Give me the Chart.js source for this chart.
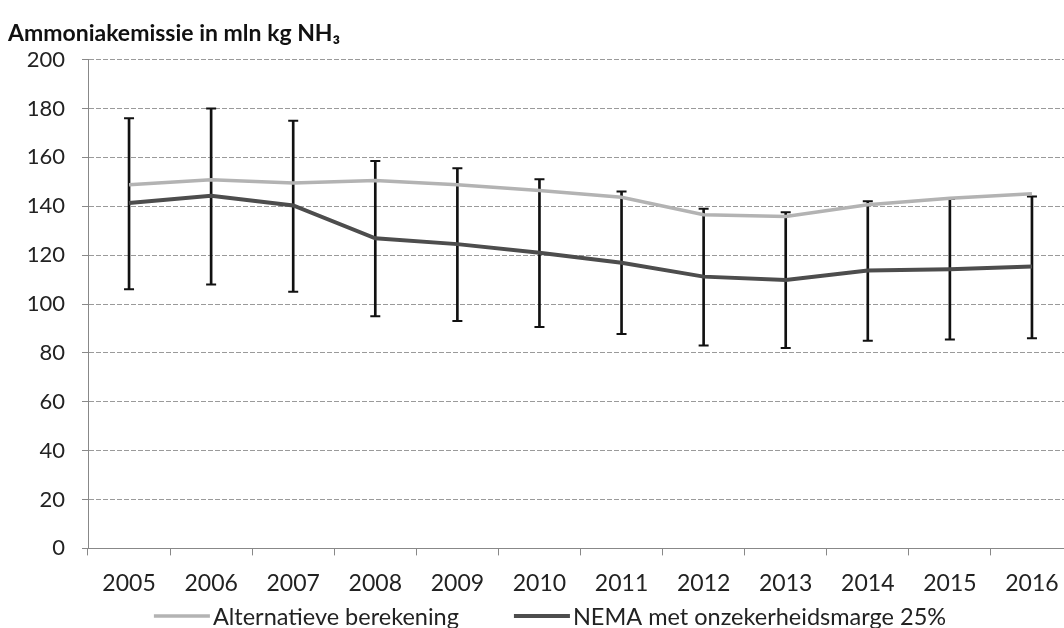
<!DOCTYPE html>
<html>
<head>
<meta charset="utf-8">
<script src="https://cdn.jsdelivr.net/npm/chart.js@4"></script>
<style>
html,body{margin:0;padding:0;background:#fff;overflow:hidden;}
#wrap{width:1080px;height:628px;position:relative;}
</style>
</head>
<body>
<div id="wrap"><canvas id="c"></canvas></div>
<script>
const years = ['2005','2006','2007','2008','2009','2010','2011','2012','2013','2014','2015','2016'];
const alternatief = [148.8,150.8,149.5,150.5,148.8,146.4,143.7,136.5,135.8,140.6,143.3,145.1];
const nema = [141.3,144.3,140.3,126.9,124.5,121.0,116.9,111.2,109.8,113.7,114.2,115.3];
const errLow = [106,108,105,95,93,90.6,87.7,83,82,85,85.5,86];
const errHigh = [176,180,175,158.5,155.5,151,146,139,137.5,142,143,144];
const yTicks = [0,20,40,60,80,100,120,140,160,180,200];

const FONT = 'Lato, "Open Sans", sans-serif';
const ranges = errLow.map((lo,i)=>[lo, errHigh[i]]);

// simple bottom legend drawn from the chart's own dataset labels/colours
const bottomLegend = {
  id: 'bottomLegend',
  afterDraw(chart) {
    const ctx = chart.ctx;
    const items = chart.data.datasets.slice(0, 2);
    const lineLen = 56, gap = 3, spacing = 55, cy = 616;
    ctx.save();
    ctx.font = '23.5px ' + FONT;
    ctx.textBaseline = 'middle';
    const widths = items.map(d => lineLen + gap + ctx.measureText(d.label).width);
    const total = widths.reduce((a,b)=>a+b,0) + spacing*(items.length-1);
    let x = 550 - total/2;
    items.forEach((d, i) => {
      ctx.strokeStyle = d.borderColor;
      ctx.lineWidth = d.borderWidth;
      ctx.beginPath();
      ctx.moveTo(x, cy); ctx.lineTo(x + lineLen, cy);
      ctx.stroke();
      ctx.fillStyle = '#222';
      ctx.fillText(d.label, x + lineLen + gap, cy + 1);
      x += widths[i] + spacing;
    });
    ctx.restore();
  }
};

new Chart(document.getElementById('c'), {
  type: 'line',
  data: {
    labels: years,
    datasets: [
      { label: 'Alternatieve berekening', data: alternatief, borderColor: '#b3b3b3', backgroundColor: '#b3b3b3', borderWidth: 3.5, pointRadius: 0, tension: 0, order: 1 },
      { label: 'NEMA met onzekerheidsmarge 25%', data: nema, borderColor: '#4d4d4d', backgroundColor: '#4d4d4d', borderWidth: 4, pointRadius: 0, tension: 0, order: 0 },
      { type: 'bar', label: 'err', data: ranges, backgroundColor: '#111', borderWidth: 0, barThickness: 2, order: 5 },
      { label: 'capLow', data: errLow, showLine: false, pointStyle: 'line', pointRadius: 5, pointBorderWidth: 2, borderColor: '#111', backgroundColor: '#111', order: 4 },
      { label: 'capHigh', data: errHigh, showLine: false, pointStyle: 'line', pointRadius: 5, pointBorderWidth: 2, borderColor: '#111', backgroundColor: '#111', order: 4 }
    ]
  },
  plugins: [bottomLegend],
  options: {
    responsive: true,
    maintainAspectRatio: false,
    animation: false,
    devicePixelRatio: 1,
    layout: { padding: { left: 8, right: 6, top: 0, bottom: 17 } },
    plugins: {
      title: {
        display: true, text: 'Ammoniakemissie in mln kg NH₃', align: 'start',
        color: '#111', font: { family: FONT, size: 23, weight: 'bold', lineHeight: 1.2 },
        padding: { top: 20, bottom: 12 }
      },
      legend: { display: false },
      tooltip: { enabled: false }
    },
    scales: {
      x: {
        offset: true,
        grid: { offset: true, drawOnChartArea: false, drawTicks: true, tickLength: 7, color: '#888' },
        border: { display: true, color: '#888' },
        ticks: { font: { family: FONT, size: 23, lineHeight: 1.2 }, color: '#222', padding: 14 }
      },
      y: {
        min: 0, max: 200,
        afterFit: (s) => { s.width = 80; },
        afterBuildTicks: (s) => { s.ticks = yTicks.map(v => ({ value: v })); },
        grid: { color: '#9a9a9a', lineWidth: 1, drawTicks: true, tickLength: 6, tickColor: '#888' },
        border: { display: true, color: '#888', dash: [5, 2] },
        ticks: { font: { family: FONT, size: 22 }, color: '#222', padding: 17 }
      }
    }
  }
});
</script>
</body>
</html>
